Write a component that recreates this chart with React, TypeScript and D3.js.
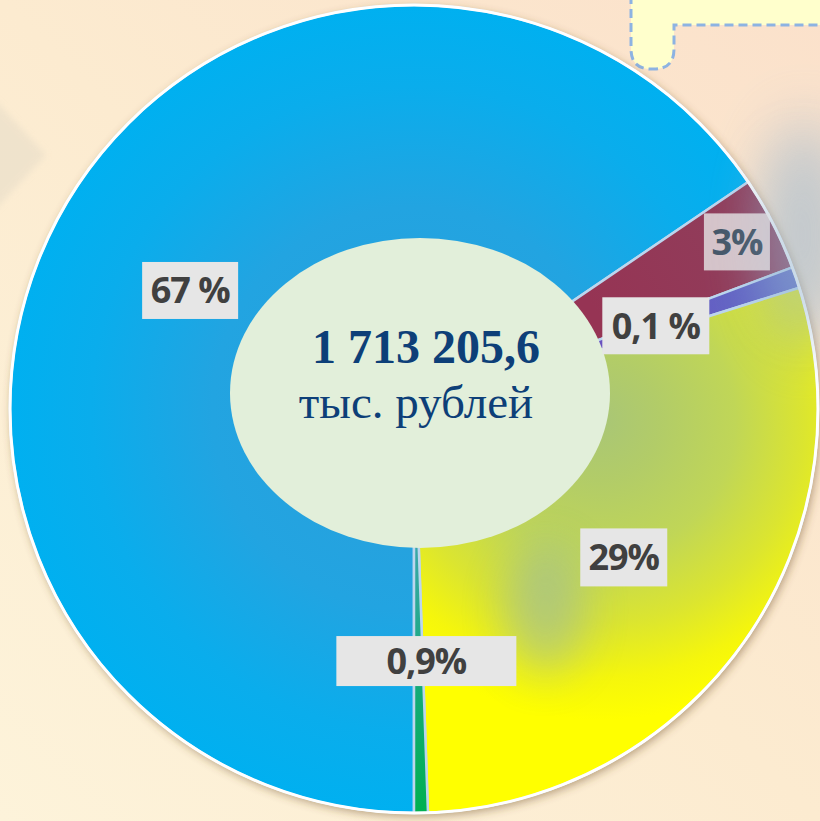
import React from "react";
import * as d3 from "d3";

const categories = ["A", "B", "C", "D", "E"];
// slice shares
const shares = [65.5, 3.8, 0.85, 29.3, 0.55];
const labels = ["67 %", "3%", "0,1 %", "29%", "0,9%"];
const colors = ["url(#gBlue)", "url(#gRed)", "url(#gPurple)", "url(#gYellow)", "url(#gGreen)"];
const labelRadius = [0.627, 0.9, 0.633, 0.636, 0.624];
const labelDx = [0, 0, 0, 0, 8];
const labelBoxW = [96, 66, 107, 87, 180];
const labelBoxH = [57, 57, 57, 58, 50];
const totalText = "1 713 205,6";
const unitText = "тыс. рублей";

const W = 820;
const H = 821;
const cx = 414;
const cy = 409;
const R = 404;

export default function App() {
  const pie = d3
    .pie<number>()
    .sort(null)
    .value((d) => d)
    .startAngle(Math.PI)
    .endAngle(3 * Math.PI);
  const arcs = pie(shares);
  const arc = d3.arc<d3.PieArcDatum<number>>().innerRadius(0).outerRadius(R);

  return (
    <svg
      width={W}
      height={H}
      style={{ position: "fixed", left: 0, top: 0, display: "block" }}
      xmlns="http://www.w3.org/2000/svg"
    >
      <defs>
        <linearGradient id="bg" x1="1" y1="0" x2="0" y2="1">
          <stop offset="0" stopColor="#fbe1cb" />
          <stop offset="0.5" stopColor="#fcebd0" />
          <stop offset="1" stopColor="#fdf3da" />
        </linearGradient>
        {/* gradient coordinates are relative to the pie centre */}
        <radialGradient id="gBlue" gradientUnits="userSpaceOnUse" cx={0} cy={0} r={R}>
          <stop offset="0" stopColor="#2c9fda" />
          <stop offset="0.5" stopColor="#22a4e1" />
          <stop offset="0.8" stopColor="#0aadec" />
          <stop offset="1" stopColor="#00b0f0" />
        </radialGradient>
        <radialGradient id="gYellow" gradientUnits="userSpaceOnUse" cx={600 - cx} cy={420 - cy} r={300}>
          <stop offset="0" stopColor="#a9c676" />
          <stop offset="0.2" stopColor="#b2cc68" />
          <stop offset="0.45" stopColor="#c0d657" />
          <stop offset="0.68" stopColor="#dbe530" />
          <stop offset="0.86" stopColor="#f5f60c" />
          <stop offset="1" stopColor="#ffff00" />
        </radialGradient>
        <linearGradient id="gRed" gradientUnits="userSpaceOnUse" x1={600 - cx} y1={320 - cy} x2={770 - cx} y2={220 - cy}>
          <stop offset="0" stopColor="#963454" />
          <stop offset="1" stopColor="#8f3f5c" />
        </linearGradient>
        <linearGradient id="gPurple" gradientUnits="userSpaceOnUse" x1={600 - cx} y1={340 - cy} x2={800 - cx} y2={280 - cy}>
          <stop offset="0" stopColor="#6a52c0" />
          <stop offset="1" stopColor="#5f6cc6" />
        </linearGradient>
        <linearGradient id="gGreen" gradientUnits="userSpaceOnUse" x1={0} y1={140} x2={0} y2={R}>
          <stop offset="0" stopColor="#3aa8a8" />
          <stop offset="0.5" stopColor="#16aa7a" />
          <stop offset="1" stopColor="#00b050" />
        </linearGradient>
        <clipPath id="yClip">
          <path d={arc(arcs[3]) || ""} transform={`translate(${cx},${cy})`} />
        </clipPath>
        <filter id="shadow" x="-10%" y="-10%" width="120%" height="120%">
          <feDropShadow dx="2" dy="3" stdDeviation="4" floodColor="#6b4a20" floodOpacity="0.45" />
        </filter>
        <filter id="blur" x="-100%" y="-100%" width="300%" height="300%">
          <feGaussianBlur stdDeviation="28" />
        </filter>
        <filter id="blurMid" x="-100%" y="-100%" width="300%" height="300%">
          <feGaussianBlur stdDeviation="22" />
        </filter>
        <filter id="blurSmall" x="-50%" y="-50%" width="200%" height="200%">
          <feGaussianBlur stdDeviation="3" />
        </filter>
      </defs>

      <rect x={0} y={0} width={W} height={H} fill="url(#bg)" />
      <polygon points="-10,95 46,155 -10,215" fill="#e6dcc8" opacity={0.55} filter="url(#blurSmall)" />

      {/* top-right callout shape */}
      <path
        d="M631,-5 L631,49 Q631,69 651,69 L654,69 Q674,69 674,49 L674,25 L825,25 L825,-5 Z"
        fill="#ffffcc"
        stroke="#8db3e2"
        strokeWidth={3}
        strokeDasharray="9 5"
      />

      <g filter="url(#shadow)">
        <circle cx={cx} cy={cy} r={R + 1} fill="#ffffff" />
      </g>

      <g transform={`translate(${cx},${cy})`}>
        {arcs.map((a, i) => (
          <path
            key={categories[i]}
            d={arc(a) || ""}
            fill={colors[i]}
            stroke="#bcd6ee"
            strokeWidth={2.5}
            strokeLinejoin="round"
          />
        ))}
      </g>
      <g clipPath="url(#yClip)">
        <ellipse cx={545} cy={610} rx={40} ry={65} fill="#86abc4" opacity={0.45} filter="url(#blurMid)" />
      </g>
      <circle cx={cx} cy={cy} r={R} fill="none" stroke="#ffffff" strokeWidth={3} />

      {/* soft glow over the right part */}
      <ellipse cx={805} cy={235} rx={45} ry={120} fill="#8fb1cf" opacity={0.45} filter="url(#blur)" />

      {/* centre ellipse */}
      <ellipse cx={420} cy={393} rx={190} ry={155} fill="#e2efda" />
      <text
        x={426}
        y={363}
        textAnchor="middle"
        fontFamily="'Liberation Serif', 'Times New Roman', serif"
        fontWeight="bold"
        fontSize={48}
        fill="#0d3f78"
      >
        {totalText}
      </text>
      <text
        x={416}
        y={418}
        textAnchor="middle"
        fontFamily="'Liberation Serif', 'Times New Roman', serif"
        fontSize={47}
        fill="#0d3f78"
      >
        {unitText}
      </text>

      {/* data labels */}
      {arcs.map((a, i) => {
        const mid = (a.startAngle + a.endAngle) / 2;
        const r = R * labelRadius[i];
        const x = cx + r * Math.sin(mid) + labelDx[i];
        const y = cy - r * Math.cos(mid);
        const w = labelBoxW[i];
        const h = labelBoxH[i];
        return (
          <g key={"l" + i}>
            <rect x={x - w / 2} y={y - h / 2} width={w} height={h} fill="#e6e6e6" opacity={i === 1 ? 0.8 : 1} />
            <text
              x={x}
              y={y + 13}
              textAnchor="middle"
              fontFamily="'Open Sans', 'Noto Sans', sans-serif"
              fontWeight="bold"
              fontSize={36}
              letterSpacing={-1}
              fill={i === 1 ? "#46586a" : "#404040"}
            >
              {labels[i]}
            </text>
          </g>
        );
      })}
      <ellipse cx={800} cy={235} rx={35} ry={90} fill="#9db8cf" opacity={0.25} filter="url(#blur)" />
    </svg>
  );
}
